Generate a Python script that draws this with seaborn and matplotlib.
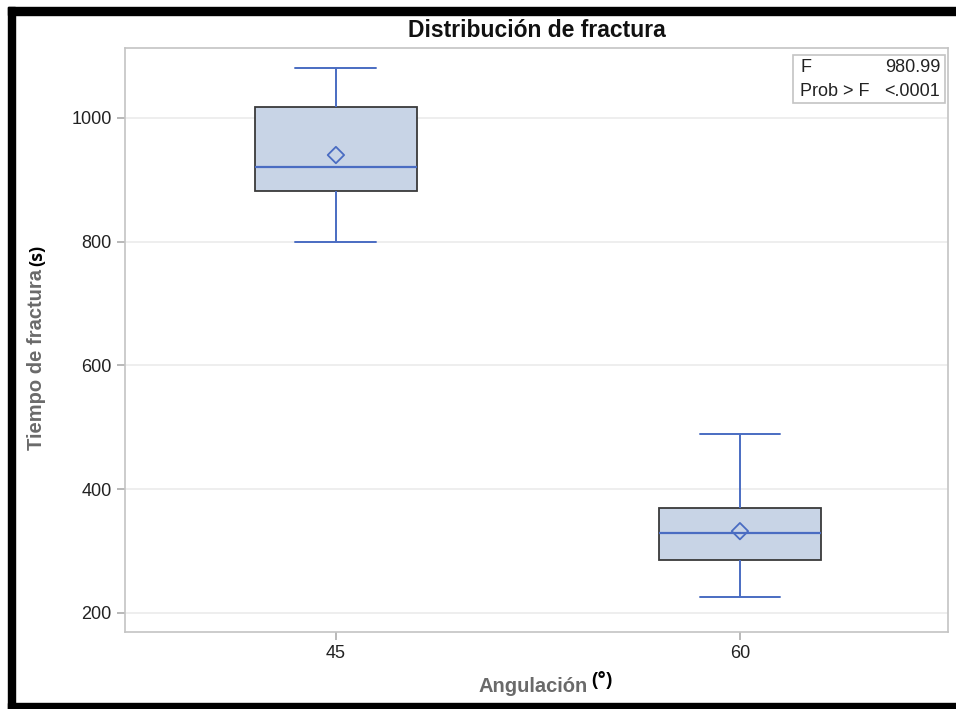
import numpy as np
import pandas as pd
import matplotlib
matplotlib.use("Agg")
import matplotlib.pyplot as plt
from matplotlib.patches import Rectangle
import seaborn as sns

# box summaries (min, Q1, median, Q3, max)
categorias = ["45", "60"]
tiempo_45 = [800, 882, 921, 1018, 1081]
tiempo_60 = [226, 285, 329, 369, 489]
medias = [940, 332]
y_ticks = [200, 400, 600, 800, 1000]

df = pd.DataFrame({
    "Angulacion": ["45"] * len(tiempo_45) + ["60"] * len(tiempo_60),
    "Tiempo": tiempo_45 + tiempo_60,
})

sns.set_theme(style="white")
plt.rcParams["font.family"] = ["Liberation Sans", "DejaVu Sans"]

blue = "#4a6cc2"
fill = "#c8d4e6"
edge = "#3a3a3a"

fig = plt.figure(figsize=(9.56, 7.09), dpi=100)
ax = fig.add_axes([125 / 956, 1 - 632 / 709, 823 / 956, 584 / 709])

sns.boxplot(
    data=df, x="Angulacion", y="Tiempo", order=categorias, ax=ax,
    whis=(0, 100), width=0.4, color=fill, saturation=1, fliersize=0,
    boxprops=dict(facecolor=fill, edgecolor=edge, linewidth=1.3),
    medianprops=dict(color=blue, linewidth=1.6),
    whiskerprops=dict(color=blue, linewidth=1.4),
    capprops=dict(color=blue, linewidth=1.4),
)
ax.scatter(range(len(categorias)), medias, marker="D", s=70,
           facecolors="none", edgecolors=blue, linewidths=1.3, zorder=5)

ax.set_xlim(-0.522, 1.515)
ax.set_ylim(169, 1113)
ax.set_yticks(y_ticks)
ax.yaxis.grid(True, color="#ebebeb", linewidth=1.2)
ax.set_axisbelow(True)
for s in ax.spines.values():
    s.set_color("#c4c4c4")
    s.set_linewidth(1.2)
ax.tick_params(axis="both", which="both", length=6, color="#b0b0b0",
               labelsize=13, labelcolor="#222222", left=True, bottom=True)
ax.set_xlabel("")
ax.set_ylabel("")

ax.set_title("Distribución de fractura", fontsize=16.5, fontweight="bold",
             color="#111111", pad=8)

# axis labels: grey part + black units
fig.text(37 / 956, 1 - 359 / 709, "Tiempo de fractura", rotation=90,
         ha="center", va="center", fontsize=14.5, fontweight="bold", color="#6a6a6a")
fig.text(37 / 956, 1 - 255 / 709, "(s)", rotation=90, ha="center", va="center",
         fontsize=13, fontweight="bold", color="black", family="Open Sans")
fig.text(533 / 956, 1 - 687 / 709, "Angulación", ha="center", va="center",
         fontsize=14.5, fontweight="bold", color="#6a6a6a")
fig.text(602 / 956, 1 - 681 / 709, "(°)", ha="center", va="center",
         fontsize=14, fontweight="bold", color="black", family="Open Sans")

# stats inset
ax.add_patch(Rectangle((793 / 956, 1 - 103 / 709), 152 / 956, 48 / 709,
                       transform=fig.transFigure, facecolor="white",
                       edgecolor="#c4c4c4", linewidth=1.2, zorder=6))
fig.text(800 / 956, 1 - 68 / 709, "F", ha="left", va="center", fontsize=13, color="#222222")
fig.text(940 / 956, 1 - 68 / 709, "980.99", ha="right", va="center", fontsize=13, color="#222222")
fig.text(800 / 956, 1 - 91 / 709, "Prob > F", ha="left", va="center", fontsize=13, color="#222222")
fig.text(940 / 956, 1 - 91 / 709, "<.0001", ha="right", va="center", fontsize=13, color="#222222")

# black frame of the screenshot
fig.patches.append(Rectangle((8 / 956, 0), 7 / 956, 1 - 7 / 709,
                             transform=fig.transFigure, color="black"))
fig.patches.append(Rectangle((8 / 956, 1 - 15 / 709), 948 / 956, 8 / 709,
                             transform=fig.transFigure, color="black"))
fig.patches.append(Rectangle((8 / 956, 0), 948 / 956, 6 / 709,
                             transform=fig.transFigure, color="black"))

fig.savefig("out.png", dpi=100)
